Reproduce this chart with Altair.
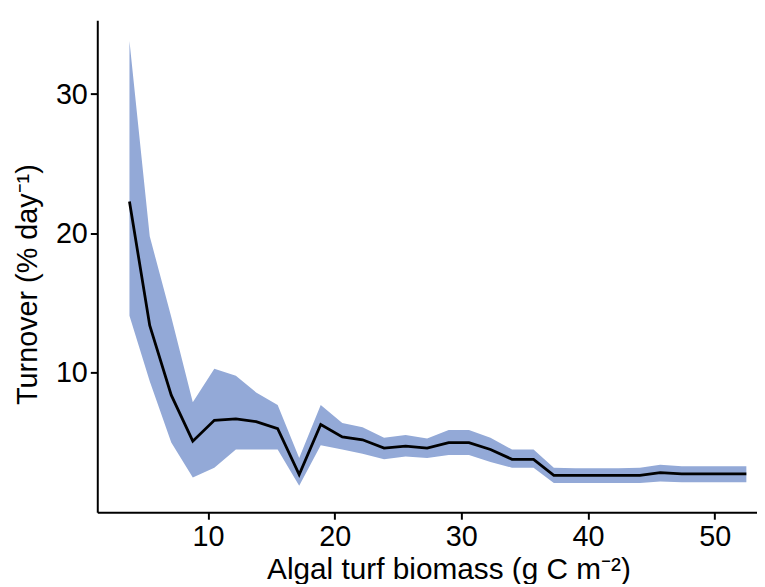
import altair as alt
import pandas as pd

biomass = [3.8, 5.4, 7.1, 8.8, 10.5, 12.2, 13.8, 15.5, 17.2, 18.9,
           20.6, 22.2, 23.9, 25.6, 27.3, 29.0, 30.6, 32.3, 34.0, 35.7,
           37.3, 39.0, 40.7, 42.4, 44.1, 45.7, 47.4, 49.1, 50.8, 52.5]
turnover = [22.3, 13.4, 8.4, 5.1, 6.6, 6.7, 6.5, 6.0, 2.7, 6.3,
            5.4, 5.2, 4.6, 4.75, 4.6, 5.0, 5.0, 4.5, 3.8, 3.8,
            2.65, 2.65, 2.65, 2.65, 2.65, 2.85, 2.75, 2.75, 2.75, 2.75]
upper = [33.8, 19.8, 14.0, 7.9, 10.3, 9.8, 8.6, 7.7, 3.9, 7.7,
         6.4, 6.1, 5.35, 5.55, 5.3, 5.9, 5.9, 5.35, 4.5, 4.5,
         3.2, 3.15, 3.15, 3.15, 3.2, 3.4, 3.3, 3.3, 3.3, 3.3]
lower = [14.1, 9.4, 5.0, 2.5, 3.2, 4.5, 4.5, 4.5, 1.9, 4.8,
         4.5, 4.2, 3.8, 4.0, 3.9, 4.1, 4.1, 3.6, 3.2, 3.2,
         2.1, 2.1, 2.1, 2.1, 2.1, 2.2, 2.15, 2.15, 2.15, 2.15]

x_ticks = [10, 20, 30, 40, 50]
y_ticks = [10, 20, 30]

df = pd.DataFrame({"x": biomass, "y": turnover, "lo": lower, "hi": upper})

xscale = alt.Scale(domain=[1.26, 53.34], nice=False, zero=False)
yscale = alt.Scale(domain=[0, 35.3], nice=False, zero=False)

base = alt.Chart(df)

band = base.mark_area(color="#93A9D7", opacity=1).encode(
    x=alt.X("x:Q", scale=xscale,
            axis=alt.Axis(values=x_ticks, title="Algal turf biomass (g C m\u207b\u00b2)",
                          labelPadding=4, titleX=354, titleY=67,
                          titleFontSize=30, titleBaseline="alphabetic")),
    y=alt.Y("lo:Q", scale=yscale,
            axis=alt.Axis(values=y_ticks, title="Turnover (% day\u207b\u00b9)",
                          labelPadding=3, titleX=-61, titleY=266,
                          titleBaseline="alphabetic")),
    y2="hi:Q",
)

line = base.mark_line(color="black", strokeWidth=2.8).encode(
    x=alt.X("x:Q", scale=xscale),
    y=alt.Y("y:Q", scale=yscale),
)

chart = (band + line).properties(
    width=665,
    height=496,
    autosize=alt.AutoSizeParams(type="none"),
    padding={"left": 90, "top": 10, "right": 0, "bottom": 70},
).configure_view(stroke=None).configure_axis(
    grid=False,
    domainColor="black",
    domainWidth=2,
    tickColor="black",
    tickWidth=2,
    tickSize=7,
    labelFont="Liberation Sans",
    labelFontSize=29,
    labelColor="black",
    titleFont="Liberation Sans",
    titleFontSize=29,
    titleFontWeight="normal",
    titleColor="black",
)

chart.save("out.html", embed_options={"renderer": "svg", "actions": False})
